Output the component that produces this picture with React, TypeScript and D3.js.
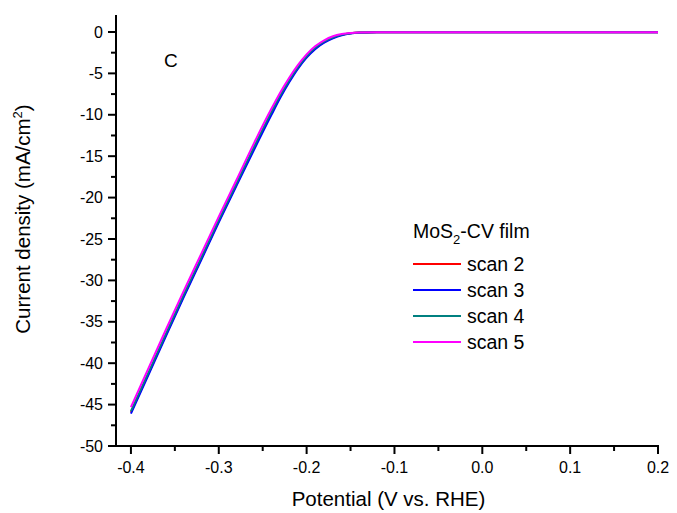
import React from "react";
import * as d3 from "d3";

const potential = [-0.4, -0.38, -0.36, -0.34, -0.32, -0.3, -0.28, -0.26, -0.24, -0.23, -0.22, -0.21, -0.2, -0.19, -0.18, -0.17, -0.16, -0.15, -0.14, -0.12, -0.1, -0.05, 0.0, 0.05, 0.1, 0.15, 0.2];

const scan2 = [-45.95, -41.25, -36.55, -31.9, -27.4, -22.85, -18.45, -14.05, -9.8, -7.8, -5.95, -4.35, -3.0, -1.95, -1.22, -0.7, -0.35, -0.16, -0.07, -0.03, -0.02, -0.02, -0.02, -0.02, -0.02, -0.02, -0.02];
const scan3 = [-46.1, -41.4, -36.7, -32.05, -27.55, -23.0, -18.6, -14.25, -10.0, -7.95, -6.1, -4.45, -3.1, -2.05, -1.3, -0.78, -0.4, -0.18, -0.08, -0.03, -0.02, -0.02, -0.02, -0.02, -0.02, -0.02, -0.02];
const scan4 = [-45.8, -41.1, -36.4, -31.75, -27.25, -22.7, -18.3, -13.9, -9.65, -7.65, -5.85, -4.25, -2.9, -1.88, -1.15, -0.65, -0.32, -0.15, -0.07, -0.03, -0.02, -0.02, -0.02, -0.02, -0.02, -0.02, -0.02];
const scan5 = [-45.3, -40.6, -35.9, -31.3, -26.8, -22.3, -17.9, -13.45, -9.25, -7.3, -5.55, -4.0, -2.7, -1.7, -1.0, -0.52, -0.25, -0.11, -0.05, -0.03, -0.02, -0.02, -0.02, -0.02, -0.02, -0.02, -0.02];

const seriesNames = ["scan 2", "scan 3", "scan 4", "scan 5"];
const seriesColors = ["#FF0000", "#0000FF", "#008080", "#FF00FF"];
const allSeries = [scan2, scan3, scan4, scan5];

const xMajorTicks = [-0.4, -0.3, -0.2, -0.1, 0.0, 0.1, 0.2];
const xMinorTicks = [-0.35, -0.25, -0.15, -0.05, 0.05, 0.15];
const yMajorTicks = [0, -5, -10, -15, -20, -25, -30, -35, -40, -45, -50];
const yMinorTicks = [-2.5, -7.5, -12.5, -17.5, -22.5, -27.5, -32.5, -37.5, -42.5, -47.5];

const W = 677;
const H = 513;
const font = "Arial, 'Liberation Sans', sans-serif";

export default function App() {
  const x = d3.scaleLinear().domain([-0.417, 0.2]).range([116, 658]);
  const y = d3.scaleLinear().domain([-50, 2.05]).range([446, 15]);
  const line = d3
    .line<number>()
    .x((_, i) => x(potential[i]))
    .y((d) => y(d))
    .curve(d3.curveMonotoneX);

  const x0 = x.range()[0];
  const y0 = y.range()[0];
  const legendX = 413;
  const legendRows = [264, 290, 316, 342];

  return (
    <svg
      width={W}
      height={H}
      style={{ position: "absolute", left: 0, top: 0, background: "#fff" }}
      fontFamily={font}
    >
      <rect x={0} y={0} width={W} height={H} fill="#fff" />
      {allSeries.map((s, i) => (
        <path key={i} d={line(s) || ""} fill="none" stroke={seriesColors[i]} strokeWidth={2} />
      ))}
      <line x1={x0} x2={x0} y1={y.range()[1]} y2={y0 + 1} stroke="#000" strokeWidth={2} />
      <line x1={x0 - 1} x2={x.range()[1] + 1} y1={y0} y2={y0} stroke="#000" strokeWidth={2} />
      {yMajorTicks.map((t) => (
        <g key={"ym" + t}>
          <line x1={x0 - 8} x2={x0} y1={y(t)} y2={y(t)} stroke="#000" strokeWidth={2} />
          <text x={x0 - 13} y={y(t)} dy="0.35em" textAnchor="end" fontSize={16}>
            {String(t)}
          </text>
        </g>
      ))}
      {yMinorTicks.map((t) => (
        <line key={"yn" + t} x1={x0 - 5} x2={x0} y1={y(t)} y2={y(t)} stroke="#000" strokeWidth={2} />
      ))}
      {xMajorTicks.map((t) => (
        <g key={"xm" + t}>
          <line x1={x(t)} x2={x(t)} y1={y0} y2={y0 + 8} stroke="#000" strokeWidth={2} />
          <text x={x(t)} y={y0 + 27} textAnchor="middle" fontSize={16}>
            {t.toFixed(1)}
          </text>
        </g>
      ))}
      {xMinorTicks.map((t) => (
        <line key={"xn" + t} x1={x(t)} x2={x(t)} y1={y0} y2={y0 + 5} stroke="#000" strokeWidth={2} />
      ))}
      <text x={388.5} y={506} textAnchor="middle" fontSize={20.5}>
        Potential (V vs. RHE)
      </text>
      <text transform={`translate(30, 219) rotate(-90)`} textAnchor="middle" fontSize={20.5}>
        Current density (mA/cm
        <tspan dy={-8} fontSize={13}>2</tspan>
        <tspan dy={8}>)</tspan>
      </text>
      <text x={164} y={67} fontSize={19}>C</text>
      <text x={legendX} y={238} fontSize={19.5}>
        MoS
        <tspan dy={6} fontSize={13}>2</tspan>
        <tspan dy={-6}>-CV film</tspan>
      </text>
      {seriesNames.map((n, i) => (
        <g key={n}>
          <line x1={legendX} x2={legendX + 48} y1={legendRows[i]} y2={legendRows[i]} stroke={seriesColors[i]} strokeWidth={2} />
          <text x={legendX + 54} y={legendRows[i]} dy="0.36em" fontSize={19.5}>
            {n}
          </text>
        </g>
      ))}
    </svg>
  );
}
